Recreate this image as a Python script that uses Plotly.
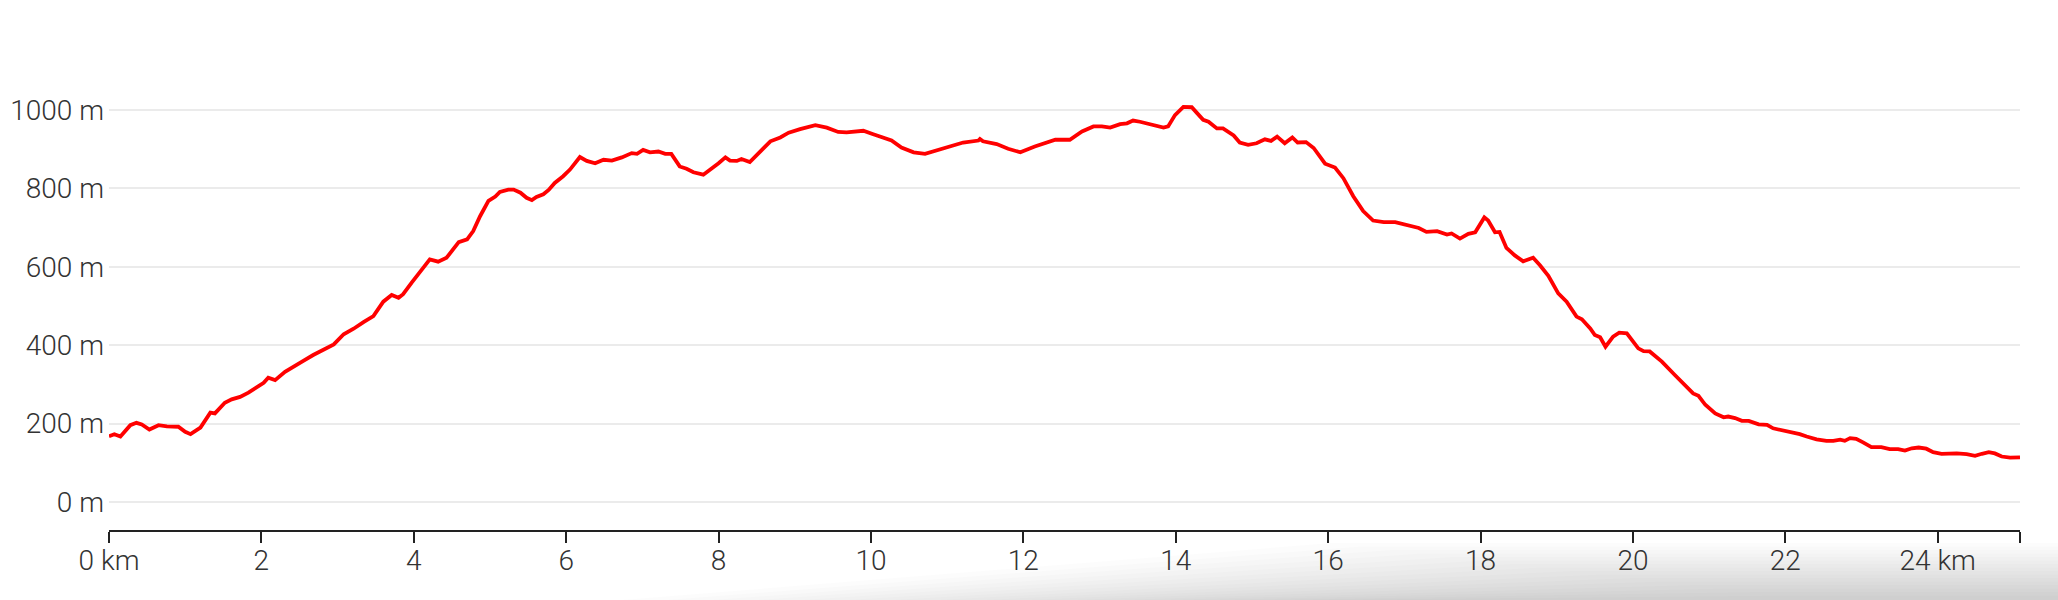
import plotly.graph_objects as go

distance_km = [
    0.0, 0.07, 0.15, 0.28, 0.36, 0.43, 0.53, 0.65, 0.76, 0.91, 1.0, 1.07, 1.2, 1.33, 1.39, 1.52,
    1.61, 1.72, 1.83, 1.94, 2.03, 2.09, 2.18, 2.31, 2.46, 2.55, 2.68, 2.81, 2.95, 3.08, 3.21,
    3.34, 3.47, 3.6, 3.71, 3.8, 3.86, 3.97, 4.1, 4.21, 4.32, 4.43, 4.59, 4.7, 4.78, 4.87, 4.98,
    5.07, 5.13, 5.24, 5.31, 5.4, 5.48, 5.55, 5.61, 5.7, 5.77, 5.85, 5.96, 6.05,
    6.18, 6.27, 6.38, 6.49, 6.6, 6.73, 6.86, 6.93, 7.01, 7.1, 7.21, 7.3, 7.38, 7.49, 7.58,
    7.67, 7.8, 7.89, 8.0, 8.09, 8.15, 8.24, 8.3, 8.41, 8.52, 8.68, 8.81, 8.92, 9.07, 9.27,
    9.42, 9.57, 9.68, 9.9, 10.03, 10.27, 10.4, 10.56, 10.71, 10.86, 11.04, 11.21, 11.41,
    11.43, 11.47, 11.65, 11.8, 11.96, 12.15, 12.31, 12.42, 12.61,
    12.77, 12.92, 13.03, 13.14, 13.27, 13.36, 13.44, 13.53, 13.71, 13.84, 13.9, 13.99, 14.1,
    14.21, 14.28, 14.36, 14.43, 14.54, 14.62, 14.67, 14.76, 14.84, 14.95, 15.06, 15.17, 15.25,
    15.33, 15.43, 15.53, 15.6, 15.71, 15.81, 15.89, 15.96, 16.09, 16.2, 16.33, 16.46, 16.59,
    16.73, 16.88, 16.99, 17.1, 17.19, 17.29, 17.43, 17.56, 17.62, 17.73, 17.84, 17.93, 18.05,
    18.1, 18.19, 18.25, 18.34, 18.45, 18.56, 18.69, 18.78, 18.89,
    19.02, 19.13, 19.26, 19.33, 19.44, 19.5, 19.57, 19.64, 19.74, 19.82, 19.92, 20.07, 20.14,
    20.22, 20.38, 20.55, 20.68, 20.79, 20.86, 20.95, 21.08, 21.19, 21.25, 21.34, 21.43, 21.52,
    21.65, 21.76, 21.84, 22.02, 22.19, 22.28, 22.41, 22.54, 22.63, 22.72, 22.78, 22.85, 22.93,
    23.02, 23.13, 23.26, 23.37, 23.48, 23.57, 23.66, 23.75, 23.85, 23.94, 24.05, 24.14, 24.25,
    24.38, 24.49, 24.58, 24.67, 24.75, 24.84, 24.95, 25.08,
]
elevation_m = [
    168, 173, 167, 196, 202, 198, 185, 196, 193, 192, 179, 173, 190, 228, 226, 253,
    262, 268, 279, 292, 304, 317, 311, 332, 351, 360, 375, 389, 402, 428, 442,
    459, 474, 511, 528, 521, 530, 559, 592, 619, 613, 623, 663, 670, 691, 729, 768,
    779, 791, 797, 797, 789, 776, 770, 778, 785, 796, 814, 831, 848,
    880, 870, 864, 873, 871, 879, 890, 888, 898, 892, 894, 888, 888, 856, 850,
    841, 835, 847, 864, 879, 871, 870, 875, 867, 890, 920, 930, 942, 951, 961,
    955, 944, 943, 947, 938, 922, 904, 892, 888, 896, 907, 917, 922,
    926, 920, 913, 901, 892, 907, 917, 924, 924,
    945, 958, 958, 955, 964, 966, 973, 970, 961, 955, 958, 987, 1008,
    1007, 992, 975, 970, 953, 953, 947, 935, 917, 911, 915, 925, 921,
    932, 915, 930, 917, 918, 903, 883, 863, 853, 826, 780, 742, 718,
    714, 714, 708, 703, 699, 689, 691, 682, 685, 672, 684, 688, 726,
    718, 688, 689, 648, 629, 614, 623, 604, 577,
    532, 511, 473, 466, 443, 426, 420, 396, 422, 432, 430, 392, 385,
    384, 358, 324, 300, 277, 271, 248, 226, 216, 218, 214, 207, 207,
    198, 197, 188, 181, 173, 167, 160, 156, 156, 159, 156, 163, 161,
    152, 140, 140, 135, 135, 131, 137, 139, 136, 127, 123, 124, 124,
    122, 118, 123, 127, 124, 116, 113, 114,
]

x_tick_vals = [0, 2, 4, 6, 8, 10, 12, 14, 16, 18, 20, 22, 24, 25.08]
x_tick_text = ["0 km", "2", "4", "6", "8", "10", "12", "14", "16", "18", "20", "22", "24 km", ""]
y_tick_vals = [0, 200, 400, 600, 800, 1000]
y_tick_text = ["0 m", "200 m", "400 m", "600 m", "800 m", "1000 m"]

W, H = 2058, 600
ML, MR, MT, MB = 109, 38, 30, 70

fig = go.Figure()
fig.add_trace(go.Scatter(
    x=distance_km, y=elevation_m, mode="lines",
    line=dict(color="#ff0000", width=3.8, shape="linear"),
    hoverinfo="skip", showlegend=False,
))

# soft grey shadow at bottom-right of the page (decoration)
pw, ph = W - ML - MR, H - MT - MB
def px2paper(px, py):
    return (px - ML) / pw, (H - MB - py) / ph
shapes = []
for k in range(16):
    pts = [(W, H), (620 + k * 45, H), (1330 + k * 30, 543 + k * 3.5), (W, 543 + k * 3.5)]
    pp = [px2paper(a, b) for a, b in pts]
    path = "M " + " L ".join(f"{a:.4f},{b:.4f}" for a, b in pp) + " Z"
    shapes.append(dict(type="path", xref="paper", yref="paper", path=path,
                       fillcolor="rgba(0,0,0,0.012)", line=dict(width=0), layer="below"))

fig.update_layout(
    width=W, height=H,
    margin=dict(l=ML, r=MR, t=MT, b=MB, pad=0, autoexpand=False),
    paper_bgcolor="white", plot_bgcolor="rgba(0,0,0,0)",
    font=dict(family="Roboto", size=28, color="#333333", weight=300),
    shapes=shapes,
    xaxis=dict(
        range=[0, 25.08], tickmode="array", tickvals=x_tick_vals, ticktext=x_tick_text,
        showgrid=False, zeroline=False, showline=True, linecolor="#222222", linewidth=2,
        ticks="outside", ticklen=11, tickwidth=2, tickcolor="#222222",
        tickfont=dict(family="Roboto", size=28, color="#333333", weight=300),
        ticklabelstandoff=-7, automargin=False,
        fixedrange=True,
    ),
    yaxis=dict(
        range=[-71.4, 1204], tickmode="array", tickvals=y_tick_vals, ticktext=y_tick_text,
        showgrid=True, gridcolor="#ebebeb", gridwidth=2, zeroline=False, showline=False,
        ticks="", ticklabelstandoff=4, automargin=False,
        tickfont=dict(family="Roboto", size=28, color="#333333", weight=300),
        fixedrange=True,
    ),
)

fig.write_html("out.html", config={"displayModeBar": False},
               post_script="document.body.style.margin='0';")
